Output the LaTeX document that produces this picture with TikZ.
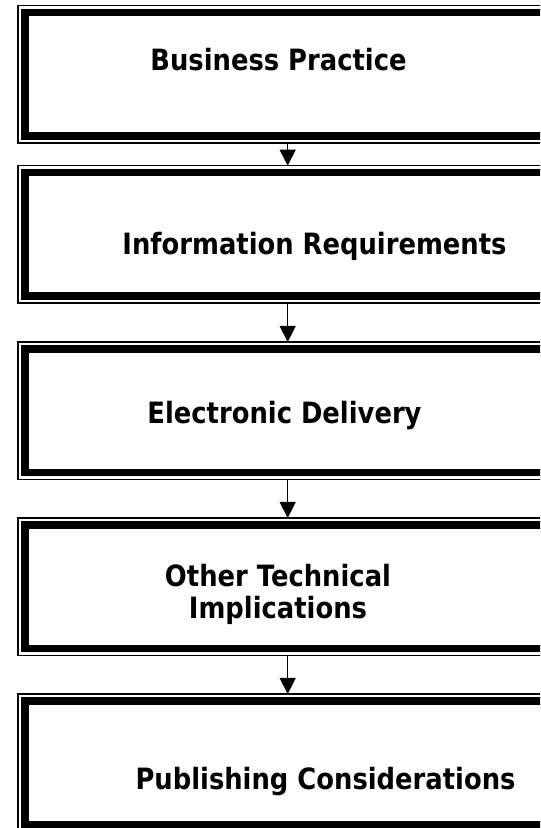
\documentclass[tikz,border=0pt]{standalone}
\usepackage{fontspec}
\usetikzlibrary{arrows.meta}
\newfontfamily\boxfont[FakeStretch=0.88]{DejaVu Sans}

\begin{document}
\begin{tikzpicture}[x=0.75pt,y=-0.75pt,
  stage/.style={rectangle, draw, line width=1.2pt, inner sep=0pt, outer sep=0pt,
                minimum width=404.25pt, minimum height=103pt},
  rim/.style={line width=5.6pt},
  caption/.style={font=\boxfont\bfseries\fontsize{22}{24}\selectfont, inner sep=0pt, align=center},
  flow/.style={line width=1pt, -{Triangle[width=12pt,length=12pt]}}
]
\useasboundingbox (0,0) rectangle (540,828);
\clip (0,0) rectangle (540,828);

% stage boxes (they run past the right edge of the page)
\node[stage] (b1) at (287.7, 74.35) {};
\node[stage] (b2) at (287.7, 234.35) {};
\node[stage] (b3) at (287.7, 410.65) {};
\node[stage] (b4) at (287.7, 586.65) {};
\node[stage] (b5) at (287.7, 762.65) {};

% heavy inner rim of each box
\foreach \b in {b1,b2,b3,b4,b5}
  \draw[rim] ([shift={(7,7)}]\b.north west) rectangle ([shift={(-7,-7)}]\b.south east);

% box titles
\node[caption, anchor=base] (t1) at (278.5, 70) {Business Practice};
\node[caption, anchor=base] (t2) at (314.5, 254) {Information Requirements};
\node[caption, anchor=base] (t3) at (284.5, 423) {Electronic Delivery};
\node[caption] (t4) at (278, 594) {Other Technical\\Implications};
\node[caption, anchor=base] (t5) at (325.5, 789) {Publishing Considerations};

% connectors
\draw[flow] (b1.south) -- (b2.north);
\draw[flow] (b2.south) -- (b3.north);
\draw[flow] (b3.south) -- (b4.north);
\draw[flow] (b4.south) -- (b5.north);
\end{tikzpicture}
\end{document}
